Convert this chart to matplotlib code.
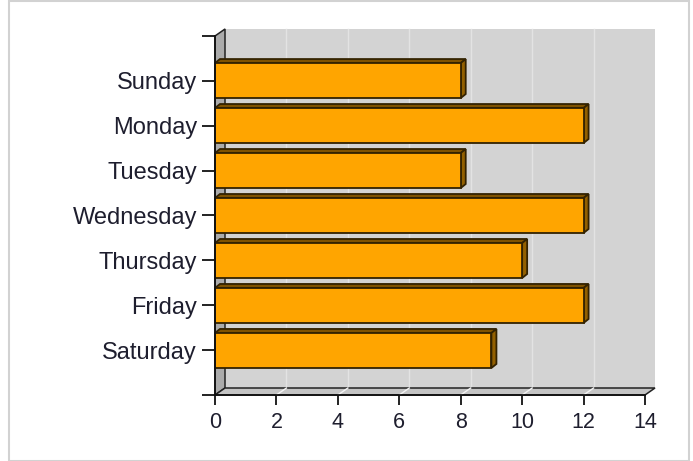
import matplotlib
matplotlib.use("Agg")
import matplotlib.pyplot as plt
from matplotlib.patches import Polygon, Rectangle

days = ["Sunday", "Monday", "Tuesday", "Wednesday", "Thursday", "Friday", "Saturday"]
values = [8, 12, 8, 12, 10, 12, 9]
xticks = [0, 2, 4, 6, 8, 10, 12, 14]

W, H = 693, 461
fig = plt.figure(figsize=(W / 100, H / 100), dpi=100)
fig.patch.set_facecolor("white")

# frame around the figure
fig.patches.append(Rectangle((9 / W, 0), (689 - 9) / W, (H - 1.5) / H, transform=fig.transFigure,
                             fill=False, edgecolor="#d2d2d2", linewidth=1.5))

L, R, T, B = 215, 645, 36, 395
ax = fig.add_axes([L / W, (H - B) / H, (R - L) / W, (B - T) / H])
ax.set_facecolor("none")
x0, x1 = 0, 14
ytop, ybot = -0.99, 6.99
ax.set_xlim(x0, x1)
ax.set_ylim(ybot, ytop)

pxx = (R - L) / (x1 - x0)
pxy = (B - T) / (ybot - ytop)
dx = 10 / pxx
dy = 7 / pxy
bdx = 5 / pxx
bdy = 4 / pxy
h = 35 / pxy

# back wall
ax.add_patch(Rectangle((x0 + dx, ytop - dy), x1 - x0, ybot - ytop, facecolor="#d3d3d3",
                       edgecolor="none", clip_on=False, zorder=0))
# back wall grid
for xv in xticks[1:-1]:
    ax.plot([xv + dx, xv + dx], [ytop - dy, ybot - dy], color="#e3e3e3", lw=1, zorder=0.5, clip_on=False)
# left wall
ax.add_patch(Polygon([(x0, ytop), (x0 + dx, ytop - dy), (x0 + dx, ybot - dy), (x0, ybot)],
                     closed=True, facecolor="#ababab", edgecolor="#222222", lw=1.1, clip_on=False, zorder=1))
# floor
ax.add_patch(Polygon([(x0, ybot), (x0 + dx, ybot - dy), (x1 + dx, ybot - dy), (x1, ybot)],
                     closed=True, facecolor="#c4c4c4", edgecolor="#222222", lw=1.1, clip_on=False, zorder=1))
for xv in xticks[1:-1]:
    ax.plot([xv, xv + dx], [ybot, ybot - dy], color="#f4f4f4", lw=1, zorder=1.2, clip_on=False)

# bars
for i, v in enumerate(values):
    top = i - h / 2
    bot = i + h / 2
    ec = "#332200"
    ax.add_patch(Polygon([(0, top), (bdx, top - bdy), (v + bdx, top - bdy), (v, top)], closed=True,
                         facecolor="#7f5200", edgecolor=ec, lw=1.3, clip_on=False, zorder=3))
    ax.add_patch(Polygon([(v, top), (v + bdx, top - bdy), (v + bdx, bot - bdy), (v, bot)], closed=True,
                         facecolor="#936000", edgecolor=ec, lw=1.3, clip_on=False, zorder=3))
    ax.add_patch(Rectangle((0, top), v, h, facecolor="#FFA500", edgecolor=ec, lw=1.3,
                           clip_on=False, zorder=4))

for s in ["top", "right"]:
    ax.spines[s].set_visible(False)
for s in ["left", "bottom"]:
    ax.spines[s].set_color("#111111")
    ax.spines[s].set_linewidth(1.3)
    ax.spines[s].set_zorder(5)

ax.set_yticks(range(len(days)))
ax.set_yticklabels(days)
ax.set_yticks([ytop, ybot], minor=True)
ax.set_xticks(xticks)
ax.set_xticklabels([str(t) for t in xticks])

ax.tick_params(axis="y", which="both", length=9.4, width=1.3, color="#111111", pad=3.5,
               labelsize=17, labelcolor="#1e1e2e")
ax.tick_params(axis="x", which="both", length=7.2, width=1.3, color="#111111", pad=5,
               labelsize=15.5, labelcolor="#1e1e2e")
for lab in ax.get_yticklabels() + ax.get_xticklabels():
    lab.set_fontfamily("Liberation Sans")

fig.savefig("out.png", dpi=100)
